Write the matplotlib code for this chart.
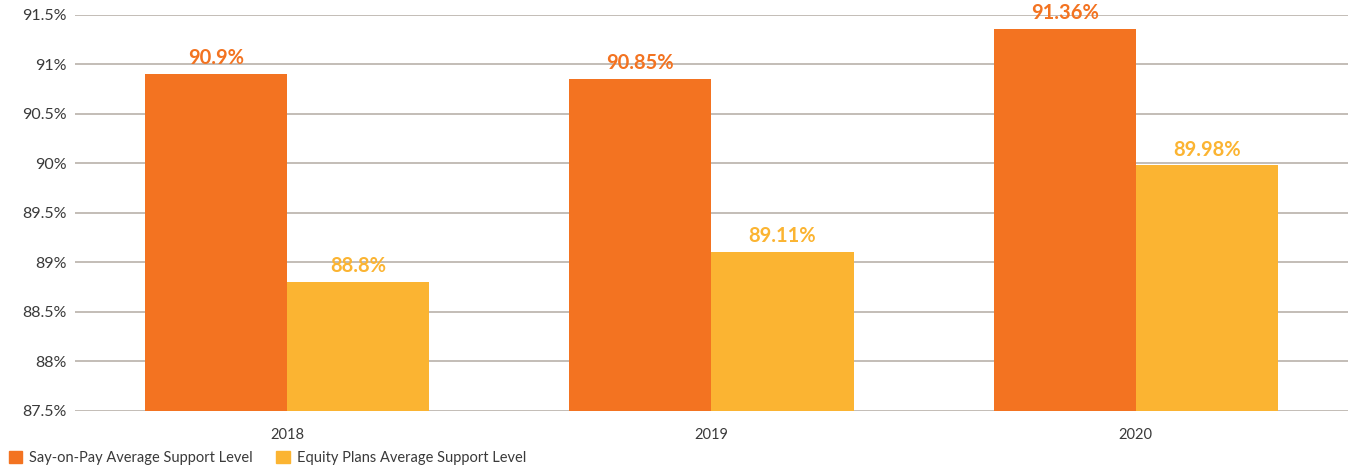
import numpy as np
import matplotlib.pyplot as plt
from matplotlib.patches import Patch

# Data
years = ["2018", "2019", "2020"]
say_on_pay = [90.9, 90.85, 91.36]
equity_plans = [88.8, 89.11, 89.98]
series_names = ["Say-on-Pay Average Support Level", "Equity Plans Average Support Level"]

ORANGE = "#F37321"
YELLOW = "#FBB432"
GRID = "#b9b2aa"
TEXT = "#3a3a3a"

plt.rcParams['font.family'] = ['Lato', 'DejaVu Sans']

fig = plt.figure(figsize=(13.48, 4.68), dpi=100)
ax = fig.add_axes([0.0556, 0.1218, 0.9444, 0.8462])

x = np.arange(len(years))
w = 0.335
base = 87.5
ax.bar(x - w / 2, np.array(say_on_pay) - base, w, bottom=base, color=ORANGE, zorder=3)
ax.bar(x + w / 2, np.array(equity_plans) - base, w, bottom=base, color=YELLOW, zorder=3)

# value labels above bars
for i in range(len(years)):
    ax.text(x[i] - w / 2, say_on_pay[i] + 0.06, f"{say_on_pay[i]:g}%", ha='center', va='bottom',
            color=ORANGE, fontsize=14.5, fontweight='bold', zorder=4)
    ax.text(x[i] + w / 2, equity_plans[i] + 0.06, f"{equity_plans[i]:g}%", ha='center', va='bottom',
            color=YELLOW, fontsize=14.5, fontweight='bold', zorder=4)

ax.set_xlim(-0.5, 2.5)
ax.set_ylim(87.5, 91.5)
yt = np.arange(87.5, 91.51, 0.5)
ax.set_yticks(yt)
ax.set_yticklabels([f"{v:g}%" for v in yt], fontsize=11.5, color=TEXT)
ax.set_xticks(x)
ax.set_xticklabels(years, fontsize=10.5, color=TEXT)
ax.tick_params(axis='both', length=0)
ax.tick_params(axis='y', pad=6)
ax.tick_params(axis='x', pad=12)
ax.grid(axis='y', color=GRID, linewidth=1.2, zorder=0)
ax.set_axisbelow(True)
for s in ax.spines.values():
    s.set_visible(False)

handles = [Patch(color=ORANGE), Patch(color=YELLOW)]
fig.legend(handles, series_names, loc='lower left', bbox_to_anchor=(-0.003, -0.022), ncol=2,
           frameon=False, fontsize=10.5, handlelength=0.9, handleheight=0.9, handletextpad=0.5,
           columnspacing=1.6, labelcolor=TEXT)

fig.savefig("out.png", dpi=100)
